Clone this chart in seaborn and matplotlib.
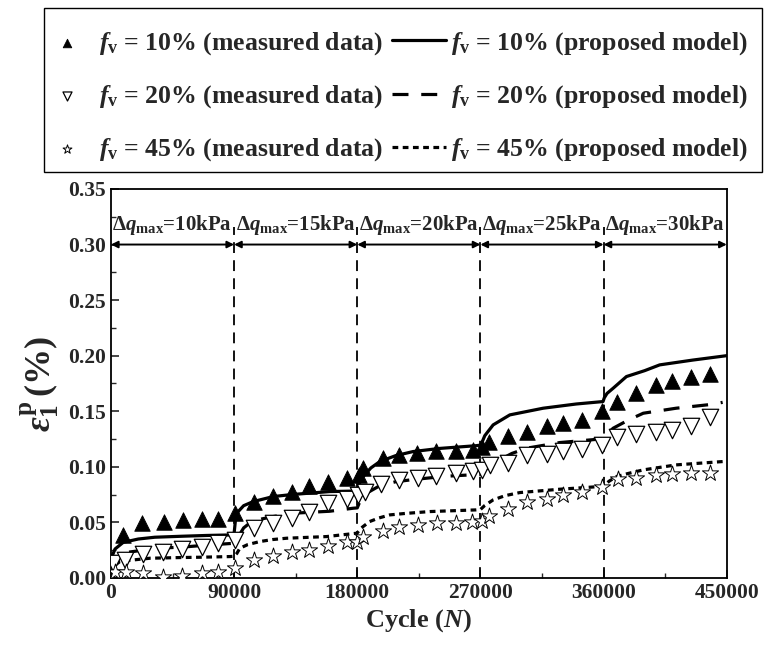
import numpy as np
import pandas as pd
import matplotlib
matplotlib.use("Agg")
import matplotlib.pyplot as plt
import seaborn as sns
from matplotlib.patches import Rectangle
from matplotlib.ticker import MultipleLocator, FormatStrFormatter

N_10 = [9000, 23000, 38900, 52800, 66700, 78400, 90600, 104500, 118100, 132000,
        144900, 158700, 172600, 181200, 184300, 198500, 210400, 223800, 237900, 251800,
        264700, 270800, 276300, 290200, 304400, 318300, 330400, 344300, 359200, 369900,
        384000, 398100, 410000, 424200, 438100]
eps_10 = [0.039, 0.049, 0.0505, 0.052, 0.053, 0.053, 0.058, 0.068, 0.074, 0.0776,
          0.083, 0.0866, 0.0902, 0.093, 0.0992, 0.1078, 0.1102, 0.1123, 0.1146, 0.1146,
          0.1152, 0.1182, 0.1227, 0.1278, 0.1312, 0.1369, 0.1393, 0.1422, 0.1503, 0.1582,
          0.1668, 0.1737, 0.1773, 0.1812, 0.1837]

N_20 = [1700, 10200, 23600, 38200, 52300, 66300, 78400, 90600, 104500, 118100,
        132000, 144900, 158700, 172200, 180600, 185500, 197700, 210400, 224500, 237900,
        251800, 264700, 270800, 276900, 290200, 304400, 318300, 330400, 344300, 359200,
        369900, 384000, 398100, 410000, 424200, 438100]
eps_20 = [0.0132, 0.0165, 0.0215, 0.0237, 0.0258, 0.0282, 0.0312, 0.0342, 0.0447, 0.0498,
          0.0537, 0.0597, 0.0672, 0.0708, 0.0747, 0.0777, 0.0846, 0.0882, 0.0897, 0.0918,
          0.0942, 0.0962, 0.0972, 0.1017, 0.1032, 0.1107, 0.1116, 0.1143, 0.1158, 0.1197,
          0.1272, 0.1296, 0.1311, 0.1332, 0.1368, 0.1452]

N_45 = [2900, 10700, 23600, 38200, 51600, 66300, 78400, 90600, 104500, 118100,
        132000, 144900, 158700, 172200, 180000, 184300, 198500, 210400, 224500, 238300,
        252500, 264200, 270800, 276300, 290200, 304400, 318300, 330400, 344300, 359200,
        370600, 384000, 398100, 410000, 424200, 438100]
eps_45 = [0.0057, 0.0057, 0.0048, 0.0006, 0.0018, 0.0048, 0.0057, 0.0085, 0.0165, 0.0195,
          0.0232, 0.0255, 0.0288, 0.0327, 0.0327, 0.0372, 0.0426, 0.0456, 0.0477, 0.0498,
          0.0498, 0.0507, 0.0516, 0.0558, 0.0618, 0.0687, 0.0711, 0.0747, 0.0777, 0.0816,
          0.0888, 0.0903, 0.0927, 0.0933, 0.0942, 0.0948]

# --- proposed model curves ---
M_N_10 = [0, 1000, 3000, 9000, 20000, 32000, 52000, 70000, 89000, 90000,
          91000, 93000, 97000, 104000, 118600, 132000, 160000, 180000, 181500, 184300,
          190000, 196500, 208000, 220800, 240000, 267000, 270000, 271500, 273200, 279300,
          291500, 315800, 340000, 359600, 360500, 362500, 367000, 376700, 390000, 401000,
          425000, 450000]
M_eps_10 = [0.008, 0.020, 0.026, 0.032, 0.035, 0.0366, 0.0375, 0.0382, 0.0387, 0.040,
            0.052, 0.0597, 0.065, 0.0687, 0.0732, 0.0750, 0.0777, 0.0782, 0.085, 0.0912,
            0.099, 0.1047, 0.110, 0.1137, 0.1165, 0.1190, 0.1195, 0.123, 0.128, 0.1377,
            0.1467, 0.1527, 0.1565, 0.1587, 0.162, 0.166, 0.1707, 0.1812, 0.1865, 0.1917,
            0.196, 0.200]

M_N_20 = [0, 1500, 5000, 12000, 23600, 40000, 55000, 70000, 88000, 90000,
          93000, 97000, 102800, 110000, 118600, 133200, 160000, 177000, 180000, 182000,
          186800, 196500, 208000, 220800, 245000, 267000, 270000, 273000, 278000, 284000,
          293000, 303700, 328000, 356000, 360000, 363000, 367000, 378000, 389000, 413000,
          440000, 447000]
M_eps_20 = [0.006, 0.014, 0.019, 0.023, 0.025, 0.027, 0.028, 0.0295, 0.031, 0.031,
            0.037, 0.045, 0.0507, 0.053, 0.0552, 0.0582, 0.0600, 0.0627, 0.063, 0.069,
            0.0762, 0.083, 0.0865, 0.0885, 0.0915, 0.093, 0.093, 0.097, 0.101, 0.1062,
            0.112, 0.1167, 0.1218, 0.1248, 0.125, 0.130, 0.1347, 0.142, 0.1482, 0.1527,
            0.1563, 0.158]

M_N_45 = [0, 1500, 6500, 15000, 28500, 50000, 65000, 87000, 90000, 92000,
          94200, 100000, 108800, 118000, 128300, 157600, 179500, 180000, 183000, 189000,
          196000, 203800, 215000, 233000, 267000, 270000, 273000, 279300, 288000, 298800,
          328000, 357000, 360000, 364000, 369400, 378000, 389000, 413000, 447000]
M_eps_45 = [0.004, 0.010, 0.0147, 0.016, 0.0177, 0.0183, 0.0186, 0.0192, 0.0195, 0.022,
            0.0267, 0.030, 0.0327, 0.0345, 0.0357, 0.0372, 0.0402, 0.0405, 0.045, 0.0507,
            0.054, 0.0567, 0.058, 0.0597, 0.0612, 0.0615, 0.065, 0.0702, 0.074, 0.0768,
            0.0798, 0.0822, 0.0825, 0.087, 0.0912, 0.094, 0.0972, 0.1017, 0.1047]

STAGE_BOUNDS = [0, 90000, 180000, 270000, 360000, 450000]
STAGE_LABELS = ["10kPa", "15kPa", "20kPa", "25kPa", "30kPa"]

# --- style ---
sns.set_theme(style="ticks")
plt.rcParams["font.family"] = ["Liberation Serif", "DejaVu Serif"]
plt.rcParams["font.weight"] = "bold"
plt.rcParams["mathtext.fontset"] = "custom"
plt.rcParams["mathtext.rm"] = "Liberation Serif:bold"
plt.rcParams["mathtext.it"] = "Liberation Serif:italic:bold"
plt.rcParams["mathtext.bf"] = "Liberation Serif:bold"
plt.rcParams["axes.linewidth"] = 1.3

fig = plt.figure(figsize=(7.65, 6.53), dpi=100)
ax = fig.add_axes([0.145, 0.115, 0.805, 0.5956])

# model curves
line_styles = {"10": "-", "20": (0, (5, 4)), "45": (0, (1.8, 1.4))}
models = [("10", M_N_10, M_eps_10), ("20", M_N_20, M_eps_20), ("45", M_N_45, M_eps_45)]
for key, xs, ys in models:
    df = pd.DataFrame({"N": xs, "eps": ys})
    sns.lineplot(data=df, x="N", y="eps", ax=ax, color="black", lw=2.3,
                 linestyle=line_styles[key], estimator=None, sort=False, zorder=3,
                 label=f"$f_{{\\rm v}}$ = {key}% (proposed model)")

# measured points
sns.scatterplot(x=N_10, y=eps_10, ax=ax, marker="^", s=125, color="black",
                edgecolor="black", linewidth=0.6, zorder=4,
                label="$f_{\\rm v}$ = 10% (measured data)")
sns.scatterplot(x=N_20, y=eps_20, ax=ax, marker="v", s=140, color="white",
                edgecolor="black", linewidth=0.9, zorder=4,
                label="$f_{\\rm v}$ = 20% (measured data)")
sns.scatterplot(x=N_45, y=eps_45, ax=ax, marker="*", s=150, color="white",
                edgecolor="black", linewidth=0.7, zorder=4,
                label="$f_{\\rm v}$ = 45% (measured data)")

# stage boundaries, arrows and labels
for b in STAGE_BOUNDS[1:-1]:
    ax.vlines(b, 0, 0.316, colors="black", linestyles=(0, (6, 4)), lw=1.3, zorder=2)
for i, lab in enumerate(STAGE_LABELS):
    x0, x1 = STAGE_BOUNDS[i], STAGE_BOUNDS[i + 1]
    ax.annotate("", xy=(x1, 0.30), xytext=(x0, 0.30),
                arrowprops=dict(arrowstyle="<|-|>", color="black", lw=1.4,
                                mutation_scale=10, shrinkA=0, shrinkB=0))
    ax.text((x0 + x1) / 2, 0.318, f"$\\Delta q_{{\\rm max}}$={lab}", ha="center",
            va="center", fontsize=15, fontweight="bold")

ax.set_xlim(0, 450000)
ax.set_ylim(0, 0.35)
ax.xaxis.set_major_locator(MultipleLocator(90000))
ax.xaxis.set_minor_locator(MultipleLocator(45000))
ax.yaxis.set_major_locator(MultipleLocator(0.05))
ax.yaxis.set_minor_locator(MultipleLocator(0.025))
ax.yaxis.set_major_formatter(FormatStrFormatter("%.2f"))
ax.tick_params(which="major", direction="in", length=6, width=1.2, labelsize=15.5,
               top=False, right=False)
ax.tick_params(which="minor", direction="in", length=3.5, width=1.0, top=False, right=False)
for lab in ax.get_xticklabels() + ax.get_yticklabels():
    lab.set_fontweight("bold")
for sp in ax.spines.values():
    sp.set_visible(True)
    sp.set_color("black")

ax.set_xlabel("Cycle ($N$)", fontsize=19, fontweight="bold", labelpad=3)
ax.set_ylabel("$\\varepsilon_1^{\\rm p}\\,$(%)", fontsize=26, fontweight="bold", labelpad=4)

# legend: measured data in first column, model curves in second
handles, labels = ax.get_legend_handles_labels()
ax.get_legend().remove()
order = [3, 4, 5, 0, 1, 2]
leg = fig.legend([handles[i] for i in order], [labels[i] for i in order],
                 loc="upper left", bbox_to_anchor=(0.0523, 0.954), borderaxespad=0,
                 ncol=2, fontsize=18.5, frameon=False, labelspacing=1.02,
                 handlelength=2.1, handletextpad=0.2, columnspacing=0.35,
                 borderpad=0, markerscale=0.55)
fig.patches.append(Rectangle((44 / 765, 1 - 172 / 653), (762 - 44) / 765, (172 - 8) / 653,
                             transform=fig.transFigure, fill=False, ec="black", lw=1.0))

fig.savefig("out.png", dpi=100)
